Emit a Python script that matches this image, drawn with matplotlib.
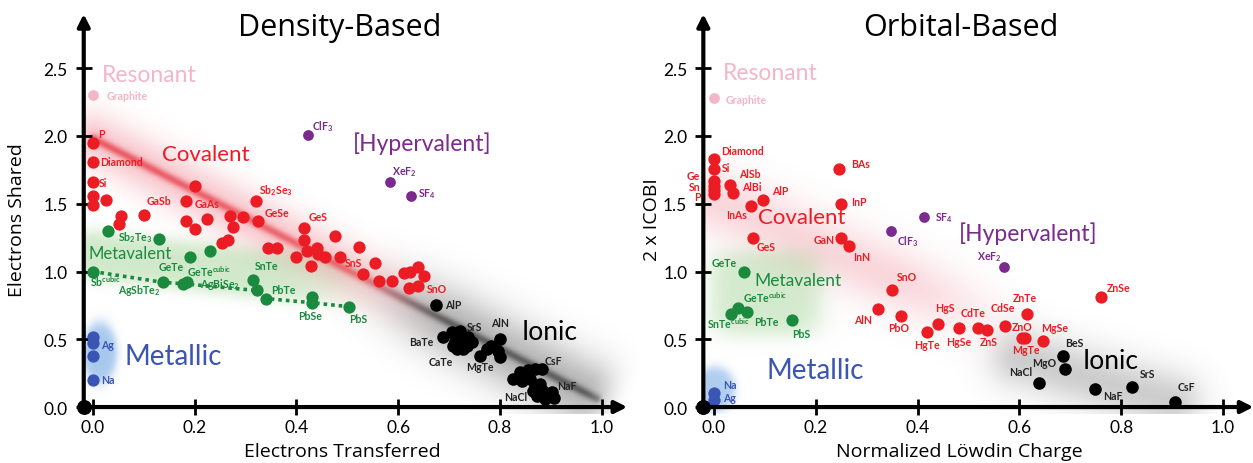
import numpy as np
import matplotlib
matplotlib.use("Agg")
import matplotlib.pyplot as plt

plt.rcParams['font.family'] = ['Lato', 'DejaVu Sans']
plt.rcParams['mathtext.default'] = 'regular'

# ---------------- data: density-based panel ----------------
res_x_d = [0.0]
res_y_d = [2.30]
res_names_d = ['Graphite']

cov_x_d = [0, 0, 0, 0, 0, 0.025, 0.055, 0.051, 0.10, 0.20, 0.183, 0.183, 0.20, 0.224,
           0.269, 0.275, 0.295, 0.32, 0.324, 0.253, 0.265, 0.344, 0.361, 0.415, 0.415,
           0.40, 0.42, 0.44, 0.442, 0.456, 0.428, 0.475, 0.485, 0.523, 0.554, 0.53,
           0.562, 0.587, 0.611, 0.623, 0.639, 0.65, 0.621, 0.639]
cov_y_d = [1.95, 1.81, 1.66, 1.56, 1.49, 1.53, 1.41, 1.35, 1.42, 1.63, 1.52, 1.37, 1.31, 1.39,
           1.41, 1.33, 1.40, 1.52, 1.37, 1.21, 1.23, 1.17, 1.17, 1.32, 1.23,
           1.11, 1.15, 1.17, 1.13, 1.11, 1.04, 1.26, 1.11, 1.18, 1.06, 0.98,
           0.93, 0.93, 0.99, 1.00, 1.03, 0.97, 0.88, 0.89]
cov_names_d = ['P', 'Diamond', 'Si', '', '', '', '', '', 'GaSb', '', 'GaAs', '', '', '',
               '', '', '', 'Sb$_2$Se$_3$', 'GeSe', '', '', '', '', 'GeS', '',
               '', '', '', '', '', '', '', 'SnS', '', '', '',
               '', '', '', '', '', '', '', 'SnO']

# first seven metavalent points lie on the dotted trend line
met_x_d = [0.0, 0.138, 0.177, 0.322, 0.341, 0.43, 0.503, 0.185, 0.029, 0.13, 0.19, 0.231, 0.315, 0.43]
met_y_d = [1.00, 0.92, 0.91, 0.86, 0.80, 0.77, 0.74, 0.92, 1.30, 1.24, 1.11, 1.15, 0.94, 0.81]
met_names_d = ['Sb$^{cubic}$', 'AgSbTe$_2$', '', 'AgBiSe$_2$', 'PbTe', 'PbSe', 'PbS', '',
               '', 'Sb$_2$Te$_3$', 'GeTe', 'GeTe$^{cubic}$', 'SnTe', '']
met_trend_n = 7

metal_x_d = [0, 0, 0, 0]
metal_y_d = [0.52, 0.47, 0.38, 0.20]
metal_names_d = ['', 'Ag', '', 'Na']

ion_x_d = [0.674, 0.688, 0.705, 0.721, 0.711, 0.725, 0.737, 0.744, 0.715, 0.727, 0.735, 0.707,
           0.80, 0.774, 0.783, 0.76, 0.796, 0.80,
           0.825, 0.839, 0.855, 0.868, 0.882, 0.843, 0.859, 0.868, 0.878, 0.884, 0.902,
           0.907, 0.872, 0.888, 0.865]
ion_y_d = [0.75, 0.52, 0.55, 0.56, 0.49, 0.50, 0.52, 0.48, 0.43, 0.43, 0.45, 0.45,
           0.50, 0.43, 0.45, 0.38, 0.41, 0.37,
           0.21, 0.26, 0.27, 0.28, 0.28, 0.19, 0.21, 0.16, 0.17, 0.12, 0.11,
           0.07, 0.08, 0.06, 0.12]
ion_names_d = ['AlP', 'BaTe', '', 'SrS', '', '', '', '', 'CaTe', '', '', '',
               'AlN', '', '', 'MgTe', '', '',
               '', '', '', '', 'CsF', '', '', '', '', '', 'NaF',
               '', 'NaCl', '', '']

hyp_x_d = [0.423, 0.583, 0.626]
hyp_y_d = [2.01, 1.66, 1.56]
hyp_names_d = ['ClF$_3$', 'XeF$_2$', 'SF$_4$']

# ---------------- data: orbital-based panel ----------------
res_x_o = [0.0]
res_y_o = [2.28]
res_names_o = ['Graphite']

cov_x_o = [0, 0, 0, 0, 0, 0, 0.031, 0.037, 0.073, 0.096, 0.246, 0.25, 0.076, 0.25, 0.266,
           0.35, 0.322, 0.367, 0.419, 0.44, 0.481, 0.519, 0.536, 0.572, 0.615, 0.605,
           0.612, 0.646, 0.76]
cov_y_o = [1.83, 1.76, 1.67, 1.63, 1.60, 1.57, 1.64, 1.58, 1.48, 1.53, 1.76, 1.50, 1.25, 1.25, 1.19,
           0.86, 0.72, 0.67, 0.55, 0.61, 0.58, 0.58, 0.57, 0.60, 0.69, 0.51,
           0.51, 0.49, 0.81]
cov_names_o = ['Diamond', 'Si', 'Ge', 'Sn', '', 'P', 'AlSb', 'AlBi', 'InAs', 'AlP', 'BAs', 'InP',
               'GeS', 'GaN', 'InN', 'SnO', 'AlN', 'PbO', 'HgTe', 'HgS', 'HgSe', 'CdTe', 'ZnS',
               'CdSe', 'ZnTe', 'ZnO', 'MgTe', 'MgSe', 'ZnSe']

met_x_o = [0.059, 0.033, 0.047, 0.065, 0.153]
met_y_o = [1.00, 0.69, 0.73, 0.70, 0.64]
met_names_o = ['GeTe', 'SnTe$^{cubic}$', 'GeTe$^{cubic}$', 'PbTe', 'PbS']

metal_x_o = [0, 0]
metal_y_o = [0.10, 0.05]
metal_names_o = ['Na', 'Ag']

ion_x_o = [0.686, 0.69, 0.638, 0.749, 0.822, 0.905]
ion_y_o = [0.38, 0.28, 0.18, 0.13, 0.15, 0.04]
ion_names_o = ['BeS', 'MgO', 'NaCl', 'NaF', 'SrS', 'CsF']

hyp_x_o = [0.347, 0.413, 0.57]
hyp_y_o = [1.30, 1.40, 1.03]
hyp_names_o = ['ClF$_3$', 'SF$_4$', 'XeF$_2$']

yticks = [0.0, 0.5, 1.0, 1.5, 2.0, 2.5]
xticks = [0.0, 0.2, 0.4, 0.6, 0.8, 1.0]

# label offsets in points (dx, dy, ha)
offs_d = {
    'Graphite': (10, 0, 'left'), 'P': (4, 7, 'left'), 'Diamond': (5, 0, 'left'),
    'Si': (4, 0, 'left'), 'GaSb': (2, 10, 'left'), 'GaAs': (6, -2, 'left'),
    'Sb$_2$Se$_3$': (2, 8, 'left'), 'GeSe': (5, 6.5, 'left'), 'GeS': (3, 8.5, 'left'),
    'SnS': (4, -4.5, 'left'), 'SnO': (6, -1.5, 'left'),
    'Sb$^{cubic}$': (-2, -7, 'left'), 'AgSbTe$_2$': (-2, -5, 'right'),
    'AgBiSe$_2$': (-12, 5, 'right'), 'PbTe': (3.5, 6.5, 'left'), 'PbSe': (-1.5, -9, 'center'),
    'PbS': (7, -8.5, 'center'), 'Sb$_2$Te$_3$': (-5, 1.5, 'right'), 'GeTe': (-4, -7, 'right'),
    'GeTe$^{cubic}$': (-1, -14, 'center'), 'SnTe': (1.5, 10, 'left'),
    'Ag': (6, -1, 'left'), 'Na': (6, 0, 'left'),
    'AlP': (6.5, 0.5, 'left'), 'BaTe': (-7, -3.5, 'right'), 'SrS': (5, 3, 'left'),
    'CaTe': (-3, -9, 'right'), 'AlN': (0, 12, 'center'), 'MgTe': (0, -8, 'center'),
    'CsF': (2, 6, 'left'), 'NaF': (3.5, 5, 'left'), 'NaCl': (-7, 0, 'right'),
    'ClF$_3$': (3, 6.5, 'left'), 'XeF$_2$': (1.5, 8, 'left'), 'SF$_4$': (4.5, 1.5, 'left'),
}
offs_o = {
    'Graphite': (8.5, -1, 'left'), 'Diamond': (5, 6, 'left'), 'Si': (5.5, 1, 'left'),
    'Ge': (-10, 3.5, 'right'), 'Sn': (-10, 0, 'right'), 'P': (-10, -1.5, 'right'),
    'AlSb': (6.5, 8, 'left'), 'AlBi': (6.5, 4.5, 'left'), 'InAs': (-3, -6, 'right'),
    'AlP': (6.5, 6.5, 'left'), 'BAs': (8.5, 3.5, 'left'), 'InP': (7, 1.5, 'left'),
    'GeS': (3, -6.5, 'left'), 'GaN': (-5, -1.5, 'right'), 'InN': (3, -8, 'left'),
    'SnO': (3.5, 10, 'left'), 'AlN': (-4.5, -7, 'right'), 'PbO': (-1.5, -8, 'center'),
    'HgTe': (0, -9, 'center'), 'HgS': (5, 12, 'center'), 'HgSe': (0, -9.5, 'center'),
    'CdTe': (-4, 11.5, 'center'), 'ZnS': (1.5, -8.5, 'center'), 'CdSe': (-1.5, 13, 'center'),
    'ZnTe': (-1.5, 11.5, 'center'), 'ZnO': (0.5, 8.5, 'center'), 'MgTe': (0, -8.5, 'center'),
    'MgSe': (8.5, 9.5, 'center'), 'ZnSe': (4.5, 7, 'left'),
    'GeTe': (-5, 6.5, 'right'), 'SnTe$^{cubic}$': (-1.5, -7, 'center'),
    'GeTe$^{cubic}$': (3.5, 8.5, 'left'), 'PbTe': (5, -6.5, 'left'), 'PbS': (6.5, -9.5, 'center'),
    'Na': (6.5, 6.5, 'left'), 'Ag': (6.5, 2, 'left'),
    'BeS': (1.5, 9.5, 'left'), 'MgO': (-6.5, 5, 'right'), 'NaCl': (-5, 8, 'right'),
    'NaF': (5.5, -4.5, 'left'), 'SrS': (5.5, 9.5, 'left'), 'CsF': (2, 11, 'left'),
    'ClF$_3$': (4.5, -7, 'left'), 'SF$_4$': (8, 0.5, 'left'), 'XeF$_2$': (-1.5, 8, 'right'),
}

RED = '#ec1c24'
GREEN = '#1b8a3f'
BLUE = '#3a55b4'
PURPLE = '#7b2a8e'
PINK = '#f5b5c8'
WIDE = ['Open Sans', 'DejaVu Sans']

XLIM = (-0.04, 1.08)
YLIM = (-0.05, 2.92)
SX, SY = 509.0, 135.5   # pixels per data unit

fig = plt.figure(figsize=(12.53, 4.64), dpi=100)
ax1 = fig.add_axes([0.0579, 0.106, 0.4549, 0.8675])
ax2 = fig.add_axes([0.5536, 0.106, 0.4549, 0.8675])

gx = np.linspace(XLIM[0], XLIM[1], 640)
gy = np.linspace(YLIM[0], YLIM[1], 440)
GX, GY = np.meshgrid(gx, gy)


def smooth(a, b, t):
    s = np.clip((t - a) / (b - a), 0, 1)
    return s * s * (3 - 2 * s)


def seg(p0, p1):
    ax_, ay_ = p0[0] * SX, p0[1] * SY
    bx, by = p1[0] * SX, p1[1] * SY
    px, py = GX * SX, GY * SY
    vx, vy = bx - ax_, by - ay_
    t = ((px - ax_) * vx + (py - ay_) * vy) / (vx * vx + vy * vy)
    tc = np.clip(t, 0, 1)
    d = np.hypot(px - (ax_ + tc * vx), py - (ay_ + tc * vy))
    return t, d


def blob(c, rx, ry, p=2):
    r = (np.abs((GX - c[0]) * SX / rx) ** p + np.abs((GY - c[1]) * SY / ry) ** p) ** (1.0 / p)
    return 1.0 / (1.0 + np.exp((r - 1.0) / 0.12))


def composite(layers, xaxis):
    rgb = np.ones(GX.shape + (3,))
    A = np.zeros(GX.shape)
    for col, a in layers:
        c = np.array(matplotlib.colors.to_rgb(col))
        a = np.where(GX < xaxis, 0, a)
        newA = a + A * (1 - a)
        rgb = (c * a[..., None] + rgb * (A * (1 - a))[..., None]) / np.maximum(newA, 1e-6)[..., None]
        A = newA
    return np.dstack([rgb, A])


# shading, density panel
t, d = seg((0.0, 1.98), (0.99, 0.06))
w_red = 1 - smooth(0.48, 0.72, t)
w_blk = smooth(0.5, 0.72, t) * (1 - smooth(0.97, 1.06, t))
tg, dg = seg((0.0, 1.12), (0.6, 0.87))
layers1 = [
    ('#e9475a', 0.30 * np.exp(-(d / 26) ** 2) * w_red),
    ('#5a5a5a', 0.45 * np.exp(-(d / 34) ** 2) * w_blk),
    ('#7cc26a', 0.35 * np.exp(-(dg / 26) ** 4) * (1 - smooth(0.55, 1.0, tg))),
    ('#5f9be0', 0.55 * blob((0.012, 0.40), 17, 30)),
    ('#e3202c', 0.65 * np.exp(-(d / 4.5) ** 2) * w_red * (1 - 0.3 * np.clip(t, 0, 1))),
    ('#303030', 0.65 * np.exp(-(d / 4.5) ** 2) * w_blk),
]
ax1.imshow(composite(layers1, -0.018), extent=(XLIM[0], XLIM[1], YLIM[0], YLIM[1]),
           origin='lower', aspect='auto', zorder=0, interpolation='bilinear')

# shading, orbital panel
tp, dp = seg((0.0, 1.52), (0.66, 0.45))
tk, dk = seg((0.6, 0.36), (0.9, 0.04))
layers2 = [
    ('#ea5a6e', 0.24 * np.exp(-(dp / 32) ** 2) * (1 - smooth(0.5, 1.0, tp))),
    ('#7cc26a', 0.33 * blob((0.10, 0.84), 55, 42, p=4)),
    ('#5f9be0', 0.50 * blob((0.0, 0.13), 20, 22)),
    ('#5a5a5a', 0.30 * np.exp(-(dk / 30) ** 2)),
]
ax2.imshow(composite(layers2, -0.021), extent=(XLIM[0], XLIM[1], YLIM[0], YLIM[1]),
           origin='lower', aspect='auto', zorder=0, interpolation='bilinear')


def put_labels(ax, xs, ys, names, offs, color):
    for x, y, n in zip(xs, ys, names):
        if not n:
            continue
        dx, dy, ha = offs[n]
        ax.annotate(n, (x, y), xytext=(dx, dy), textcoords='offset points', ha=ha,
                    va='center', fontsize=7.6, color=color, fontweight='bold', zorder=5)


def frame(ax, xaxis, xtip):
    ax.set_xlim(*XLIM)
    ax.set_ylim(*YLIM)
    for s in ['top', 'right', 'left', 'bottom']:
        ax.spines[s].set_visible(False)
    ax.spines['left'].set_position(('data', xaxis))
    ax.spines['bottom'].set_position(('data', 0))
    ax.set_xticks(xticks)
    ax.set_yticks(yticks)
    ax.set_xticklabels(['%.1f' % v for v in xticks])
    ax.set_yticklabels(['%.1f' % v for v in yticks])
    ax.tick_params(axis='both', direction='inout', length=11, width=2, labelsize=12.5)
    ax.tick_params(axis='y', pad=6)
    ax.tick_params(axis='x', pad=3)
    ax.set_facecolor('none')
    ax.annotate('', xy=(xaxis, 2.90), xytext=(xaxis, 0), zorder=6,
                arrowprops=dict(arrowstyle='-|>', lw=3, color='k', mutation_scale=18,
                                shrinkA=0, shrinkB=0))
    ax.annotate('', xy=(xtip, 0), xytext=(xaxis, 0), zorder=6,
                arrowprops=dict(arrowstyle='-|>', lw=3, color='k', mutation_scale=18,
                                shrinkA=0, shrinkB=0))
    ax.scatter([xaxis], [0], s=95, color='k', zorder=7, clip_on=False)


frame(ax1, -0.018, 1.05)
frame(ax2, -0.021, 1.06)

# density panel marks
ax1.plot(met_x_d[:met_trend_n], met_y_d[:met_trend_n], linestyle=(0, (1, 1.1)), lw=2.6,
         color=GREEN, zorder=2)
ax1.scatter(res_x_d, res_y_d, s=60, color=PINK, zorder=3, linewidths=0)
ax1.scatter(cov_x_d, cov_y_d, s=78, color=RED, zorder=3, linewidths=0)
ax1.scatter(met_x_d, met_y_d, s=78, color=GREEN, zorder=3, linewidths=0)
ax1.scatter(metal_x_d, metal_y_d, s=78, color=BLUE, zorder=3, linewidths=0)
ax1.scatter(ion_x_d, ion_y_d, s=82, color='k', zorder=3, linewidths=0)
ax1.scatter(hyp_x_d, hyp_y_d, s=60, color=PURPLE, zorder=3, linewidths=0)
put_labels(ax1, res_x_d, res_y_d, res_names_d, offs_d, PINK)
put_labels(ax1, cov_x_d, cov_y_d, cov_names_d, offs_d, RED)
put_labels(ax1, met_x_d, met_y_d, met_names_d, offs_d, GREEN)
put_labels(ax1, metal_x_d, metal_y_d, metal_names_d, offs_d, BLUE)
put_labels(ax1, ion_x_d, ion_y_d, ion_names_d, offs_d, '#222222')
put_labels(ax1, hyp_x_d, hyp_y_d, hyp_names_d, offs_d, PURPLE)

ax1.text(0.018, 2.45, 'Resonant', color=PINK, fontsize=16.5, va='center', ha='left')
ax1.text(0.136, 1.87, 'Covalent', color=RED, fontsize=16, va='center', ha='left')
ax1.text(0.647, 1.95, '[Hypervalent]', color=PURPLE, fontsize=16.5, va='center', ha='center')
ax1.text(-0.008, 1.14, 'Metavalent', color=GREEN, fontsize=12, va='center', ha='left')
ax1.text(0.063, 0.38, 'Metallic', color=BLUE, fontsize=20, va='center', ha='left')
ax1.text(0.843, 0.56, 'Ionic', color='k', fontsize=19, va='center', ha='left')

# orbital panel marks
ax2.scatter(res_x_o, res_y_o, s=60, color=PINK, zorder=3, linewidths=0)
ax2.scatter(cov_x_o, cov_y_o, s=78, color=RED, zorder=3, linewidths=0)
ax2.scatter(met_x_o, met_y_o, s=78, color=GREEN, zorder=3, linewidths=0)
ax2.scatter(metal_x_o, metal_y_o, s=78, color=BLUE, zorder=3, linewidths=0)
ax2.scatter(ion_x_o, ion_y_o, s=82, color='k', zorder=3, linewidths=0)
ax2.scatter(hyp_x_o, hyp_y_o, s=60, color=PURPLE, zorder=3, linewidths=0)
put_labels(ax2, res_x_o, res_y_o, res_names_o, offs_o, PINK)
put_labels(ax2, cov_x_o, cov_y_o, cov_names_o, offs_o, RED)
put_labels(ax2, met_x_o, met_y_o, met_names_o, offs_o, GREEN)
put_labels(ax2, metal_x_o, metal_y_o, metal_names_o, offs_o, BLUE)
put_labels(ax2, ion_x_o, ion_y_o, ion_names_o, offs_o, '#222222')
put_labels(ax2, hyp_x_o, hyp_y_o, hyp_names_o, offs_o, PURPLE)

ax2.text(0.018, 2.47, 'Resonant', color=PINK, fontsize=16.5, va='center', ha='left')
ax2.text(0.086, 1.40, 'Covalent', color=RED, fontsize=16, va='center', ha='left')
ax2.text(0.617, 1.29, '[Hypervalent]', color=PURPLE, fontsize=16.5, va='center', ha='center')
ax2.text(0.08, 0.94, 'Metavalent', color=GREEN, fontsize=12.5, va='center', ha='left')
ax2.text(0.104, 0.27, 'Metallic', color=BLUE, fontsize=20, va='center', ha='left')
ax2.text(0.725, 0.34, 'Ionic', color='k', fontsize=19, va='center', ha='left')

fig.text(0.2714, 0.94, 'Density-Based', fontsize=22, ha='center', va='center', family=WIDE)
fig.text(0.767, 0.94, 'Orbital-Based', fontsize=22, ha='center', va='center', family=WIDE)
fig.text(0.273, 0.026, 'Electrons Transferred', fontsize=14, ha='center', va='center', family=WIDE)
fig.text(0.766, 0.026, 'Normalized Löwdin Charge', fontsize=14, ha='center', va='center', family=WIDE)
fig.text(0.0136, 0.526, 'Electrons Shared', fontsize=14, ha='center', va='center', rotation=90,
         family=WIDE)
fig.text(0.520, 0.526, '2 x ICOBI', fontsize=14, ha='center', va='center', rotation=90, family=WIDE)

fig.savefig('out.png', dpi=100)
